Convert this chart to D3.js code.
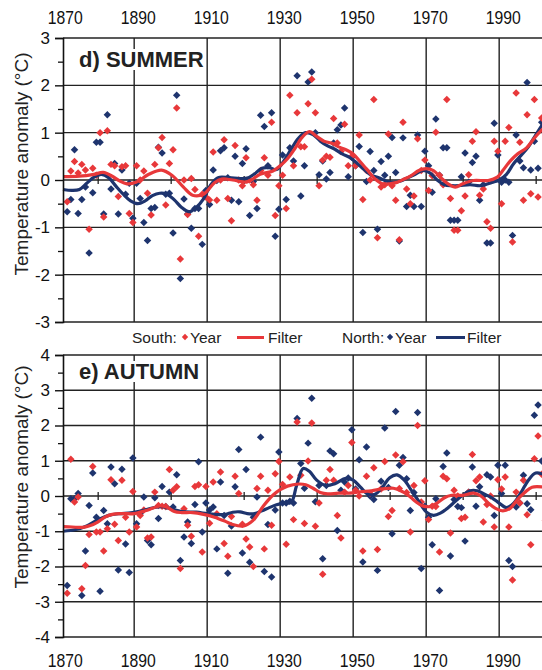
<!DOCTYPE html>
<html>
<head>
<meta charset="utf-8">
<script src="https://cdn.jsdelivr.net/npm/d3@7"></script>
<style>
  body { margin: 0; background: #fff; }
  text { font-family: "Liberation Sans", Arial, sans-serif; fill: #111; }
</style>
</head>
<body>
<svg id="chart" width="542" height="670"></svg>
<script>
// decade labels on the top and bottom edges
const yearLabels = [1870, 1890, 1910, 1930, 1950, 1970, 1990];
const gridYears = [1890, 1910, 1930, 1950, 1970, 1990];
const zeroTicks = [1880, 1900, 1920, 1940, 1960, 1980, 2000];

// d) SUMMER
const summerNorth = [
  [1871,-0.67],[1872,-0.41],[1873,0.64],[1874,-0.71],[1875,-0.41],[1876,-0.15],[1877,-1.54],[1878,-0.27],
  [1879,0.80],[1880,0.80],[1881,-0.72],[1882,1.38],[1883,-0.19],[1884,0.35],[1885,-0.72],[1886,0.21],
  [1887,-0.30],[1888,-0.07],[1889,-0.81],[1890,-0.07],[1891,-0.39],[1892,-0.90],[1893,-1.28],[1894,-0.60],
  [1895,-0.58],[1896,0.69],[1897,0.57],[1898,-0.30],[1899,-0.28],[1900,-1.12],[1901,1.79],[1902,-2.08],
  [1903,-0.40],[1904,-0.72],[1905,-1.02],[1906,-0.60],[1907,-0.60],[1908,-1.36],[1909,-0.22],[1910,-0.52],
  [1911,0.21],[1912,-0.01],[1913,0.62],[1914,0.68],[1915,0.05],[1916,-0.43],[1917,0.50],[1918,-0.46],
  [1919,0.35],[1920,0.66],[1921,-0.75],[1922,-0.03],[1923,-0.60],[1924,1.37],[1925,1.13],[1926,0.30],
  [1927,1.42],[1928,-1.19],[1929,-0.62],[1930,0.53],[1931,-0.41],[1932,0.68],[1933,0.40],[1934,2.20],
  [1935,-0.34],[1936,0.30],[1937,2.07],[1938,2.28],[1939,1.00],[1940,0.11],[1941,0.40],[1942,0.02],
  [1943,0.16],[1944,0.78],[1945,1.06],[1946,1.16],[1947,1.52],[1948,0.07],[1949,0.48],[1950,0.30],
  [1951,0.71],[1952,-1.11],[1953,-0.03],[1954,0.60],[1955,0.20],[1956,-1.04],[1957,0.39],[1958,0.10],
  [1959,0.50],[1960,0.90],[1961,0.16],[1962,-1.29],[1963,0.89],[1964,-0.56],[1965,-0.32],[1966,-0.56],
  [1967,0.95],[1968,-0.56],[1969,0.61],[1970,0.30],[1971,-0.26],[1972,1.29],[1973,0.10],[1974,0.68],
  [1975,0.68],[1976,-0.85],[1977,-0.85],[1978,-0.85],[1979,0.07],[1980,0.57],[1981,-0.05],[1982,0.37],
  [1983,0.50],[1984,-0.43],[1985,-0.10],[1986,-1.33],[1987,-1.33],[1988,1.20],[1989,0.53],[1990,-0.05],
  [1991,0.00],[1992,-0.05],[1993,-1.17],[1994,0.95],[1995,0.40],[1996,0.26],[1997,2.06],[1998,0.21],
  [1999,0.82],[2000,0.25],[2001,1.22]
];
const summerSouth = [
  [1871,-0.46],[1872,0.19],[1873,0.39],[1874,0.15],[1875,0.33],[1876,0.21],[1877,-1.04],[1878,0.25],
  [1879,0.10],[1880,1.00],[1881,-0.78],[1882,1.04],[1883,0.33],[1884,0.30],[1885,-0.35],[1886,0.28],
  [1887,0.30],[1888,-0.71],[1889,-0.90],[1890,0.30],[1891,0.00],[1892,0.19],[1893,-0.28],[1894,-0.74],
  [1895,0.33],[1896,0.68],[1897,0.90],[1898,-0.53],[1899,0.35],[1900,0.64],[1901,1.52],[1902,-1.67],
  [1903,0.00],[1904,-0.73],[1905,0.03],[1906,-0.20],[1907,-1.19],[1908,-0.30],[1909,-0.36],[1910,-0.42],
  [1911,0.59],[1912,-0.43],[1913,0.00],[1914,0.85],[1915,-0.39],[1916,-0.86],[1917,0.73],[1918,0.00],
  [1919,-0.12],[1920,0.47],[1921,0.00],[1922,-0.10],[1923,-0.43],[1924,0.20],[1925,0.47],[1926,0.10],
  [1927,1.22],[1928,-0.75],[1929,-0.12],[1930,0.10],[1931,-0.60],[1932,1.79],[1933,0.30],[1934,1.42],
  [1935,0.70],[1936,0.70],[1937,1.61],[1938,2.13],[1939,1.42],[1940,-0.12],[1941,0.42],[1942,0.50],
  [1943,0.48],[1944,1.30],[1945,0.78],[1946,0.60],[1947,1.18],[1948,0.30],[1949,0.50],[1950,0.30],
  [1951,0.95],[1952,-0.41],[1953,0.20],[1954,0.00],[1955,1.70],[1956,-1.22],[1957,-0.15],[1958,-0.10],
  [1959,0.97],[1960,-0.12],[1961,-0.43],[1962,-1.26],[1963,1.22],[1964,-0.19],[1965,-0.50],[1966,-0.34],
  [1967,0.87],[1968,0.20],[1969,0.42],[1970,-0.22],[1971,0.09],[1972,1.01],[1973,0.10],[1974,-0.10],
  [1975,1.70],[1976,-0.39],[1977,-1.06],[1978,-1.06],[1979,-0.65],[1980,-0.34],[1981,0.11],[1982,0.82],
  [1983,1.02],[1984,-0.32],[1985,-0.19],[1986,-0.88],[1987,-1.02],[1988,0.82],[1989,0.61],[1990,-0.50],
  [1991,0.82],[1992,1.11],[1993,-1.31],[1994,1.84],[1995,0.80],[1996,-0.43],[1997,1.38],[1998,-0.29],
  [1999,1.70],[2000,-0.36],[2001,1.31],[2002,2.09]
];
const summerNorthFilter = [
  [1870.5,-0.20],[1873,-0.22],[1875,-0.20],[1877,-0.07],[1879,0.06],[1881,0.12],[1883,0.05],[1885,-0.13],
  [1887,-0.30],[1889,-0.44],[1891,-0.50],[1893,-0.44],[1895,-0.33],[1897,-0.28],[1899,-0.30],[1901,-0.42],
  [1903,-0.58],[1905,-0.67],[1907,-0.58],[1909,-0.40],[1911,-0.10],[1913,0.05],[1916,0.05],[1919,0.03],
  [1921,0.04],[1923,0.13],[1925,0.25],[1927,0.26],[1929,0.22],[1931,0.40],[1933,0.65],[1935,0.88],
  [1937,1.00],[1939,0.96],[1941,0.82],[1943,0.72],[1945,0.65],[1947,0.55],[1949,0.48],[1951,0.36],
  [1953,0.22],[1955,0.10],[1957,0.05],[1959,-0.02],[1961,-0.05],[1963,-0.02],[1965,0.05],[1967,0.12],
  [1969,0.20],[1971,0.15],[1973,0.00],[1975,-0.10],[1977,-0.12],[1979,-0.12],[1982,-0.10],[1985,-0.12],
  [1988,-0.05],[1990,0.00],[1992,0.12],[1994,0.35],[1996,0.52],[1998,0.70],[2000,0.95],[2002.5,1.25]
];
const summerSouthFilter = [
  [1870.5,0.07],[1875,0.08],[1879,0.12],[1881.5,0.16],[1884,0.08],[1886,-0.02],[1888,-0.08],[1890.5,-0.05],
  [1894,0.12],[1897.5,0.21],[1900.5,0.09],[1903.5,-0.15],[1906,-0.32],[1909,-0.30],[1912,-0.06],[1914,0.02],
  [1917,0.00],[1921,-0.04],[1924.5,0.12],[1928,0.19],[1930,0.30],[1932,0.45],[1934,0.66],[1936,0.90],
  [1938,1.02],[1940,0.92],[1942,0.82],[1944,0.78],[1946,0.70],[1948,0.64],[1950,0.55],[1952,0.38],
  [1954,0.20],[1956,0.02],[1958,-0.08],[1960,-0.08],[1962,-0.05],[1964,0.02],[1966,0.10],[1968,0.20],
  [1970,0.24],[1972,0.20],[1974,0.05],[1976,-0.08],[1978,-0.15],[1980,-0.08],[1983,-0.01],[1987,-0.01],
  [1989.5,0.06],[1991,0.20],[1993,0.40],[1995,0.55],[1997.5,0.68],[2000,0.92],[2002.5,1.12]
];

// e) AUTUMN
const autumnNorth = [
  [1871,-2.54],[1872,-0.08],[1873,-0.08],[1874,0.07],[1875,-2.82],[1876,-1.56],[1877,-0.27],[1878,0.65],
  [1879,-0.60],[1880,-2.70],[1881,-0.41],[1882,-0.79],[1883,0.82],[1884,0.35],[1885,-2.10],[1886,0.76],
  [1887,-1.36],[1888,-2.17],[1889,1.08],[1890,-0.79],[1891,-0.50],[1892,-0.03],[1893,-1.26],[1894,-1.38],
  [1895,-0.05],[1896,-0.64],[1897,0.27],[1898,-0.30],[1899,0.11],[1900,-0.31],[1901,0.60],[1902,-1.83],
  [1903,-1.16],[1904,-0.74],[1905,-1.35],[1906,-0.24],[1907,0.97],[1908,-1.02],[1909,-0.20],[1910,-0.40],
  [1911,-0.31],[1912,-1.50],[1913,0.40],[1914,-0.55],[1915,-2.19],[1916,-0.85],[1917,0.26],[1918,1.32],
  [1919,-1.62],[1920,0.75],[1921,-1.88],[1922,-0.60],[1923,-0.03],[1924,1.67],[1925,-2.14],[1926,-0.81],
  [1927,-2.30],[1928,-0.40],[1929,1.25],[1930,-0.20],[1931,-0.20],[1932,-0.15],[1933,-0.20],[1934,2.20],
  [1935,0.92],[1936,0.22],[1937,1.50],[1938,2.77],[1939,-0.16],[1940,0.30],[1941,-1.78],[1942,0.30],
  [1943,1.28],[1944,1.20],[1945,-0.98],[1946,0.16],[1947,0.40],[1948,0.51],[1949,1.88],[1950,0.20],
  [1951,1.03],[1952,-1.87],[1953,1.39],[1954,0.00],[1955,-0.10],[1956,-2.11],[1957,0.42],[1958,1.93],
  [1959,0.24],[1960,-1.07],[1961,2.40],[1962,0.87],[1963,1.09],[1964,0.49],[1965,-0.41],[1966,0.10],
  [1967,2.37],[1968,-2.06],[1969,-0.29],[1970,-0.60],[1971,-1.38],[1972,-0.08],[1973,-2.68],[1974,0.84],
  [1975,1.22],[1976,-1.70],[1977,-0.10],[1978,-0.30],[1979,-0.33],[1980,-1.28],[1981,0.11],[1982,0.82],
  [1983,-0.29],[1984,0.26],[1985,0.00],[1986,0.60],[1987,0.54],[1988,-0.55],[1989,0.87],[1990,0.07],
  [1991,0.87],[1992,-1.83],[1993,-2.00],[1994,-0.31],[1995,-0.20],[1996,0.59],[1997,-0.22],[1998,-0.39],
  [1999,2.29],[2000,2.58],[2001,0.99]
];
const autumnSouth = [
  [1871,-2.76],[1872,1.04],[1873,-0.17],[1874,-0.03],[1875,-2.63],[1876,-1.97],[1877,-1.09],[1878,0.84],
  [1879,-1.02],[1880,-1.02],[1881,-1.56],[1882,-0.93],[1883,0.46],[1884,-0.80],[1885,-1.26],[1886,0.45],
  [1887,-0.60],[1888,-1.02],[1889,0.13],[1890,-0.88],[1891,-0.55],[1892,-0.40],[1893,-1.19],[1894,-1.16],
  [1895,0.11],[1896,-0.27],[1897,-0.29],[1898,-0.30],[1899,0.75],[1900,0.16],[1901,0.26],[1902,-2.06],
  [1903,-0.36],[1904,-0.83],[1905,-1.14],[1906,0.27],[1907,0.32],[1908,-1.59],[1909,0.27],[1910,-0.77],
  [1911,0.40],[1912,-0.50],[1913,0.68],[1914,-1.35],[1915,-1.71],[1916,-0.58],[1917,0.56],[1918,0.07],
  [1919,-0.80],[1920,-1.22],[1921,-1.45],[1922,-2.00],[1923,0.21],[1924,0.56],[1925,-1.50],[1926,0.16],
  [1927,-0.83],[1928,0.63],[1929,0.98],[1930,0.33],[1931,-1.37],[1932,0.54],[1933,-0.67],[1934,2.10],
  [1935,0.59],[1936,-0.78],[1937,0.99],[1938,2.07],[1939,-0.86],[1940,-0.20],[1941,-2.22],[1942,0.45],
  [1943,0.75],[1944,0.45],[1945,-0.55],[1946,-1.19],[1947,0.11],[1948,0.30],[1949,1.52],[1950,0.16],
  [1951,0.00],[1952,-1.56],[1953,0.56],[1954,0.07],[1955,0.80],[1956,-1.52],[1957,0.20],[1958,0.98],
  [1959,-0.58],[1960,-0.41],[1961,1.16],[1962,0.21],[1963,0.97],[1964,0.10],[1965,-1.02],[1966,0.30],
  [1967,2.00],[1968,-0.17],[1969,0.43],[1970,-0.67],[1971,-0.29],[1972,-0.30],[1973,-1.59],[1974,0.56],
  [1975,0.49],[1976,-1.05],[1977,0.16],[1978,0.00],[1979,-0.64],[1980,-0.60],[1981,0.11],[1982,1.18],
  [1983,0.43],[1984,0.54],[1985,-0.74],[1986,-0.24],[1987,0.00],[1988,-0.88],[1989,0.46],[1990,0.20],
  [1991,0.54],[1992,-0.88],[1993,-2.38],[1994,0.11],[1995,-0.20],[1996,0.45],[1997,-0.53],[1998,-1.38],
  [1999,1.06],[2000,1.70],[2001,0.62],[2002,-0.69]
];
const autumnNorthFilter = [
  [1870.5,-1.00],[1874,-0.95],[1877,-0.85],[1880,-0.68],[1883,-0.55],[1886,-0.50],[1889,-0.48],[1892,-0.42],
  [1895,-0.34],[1897.5,-0.30],[1900,-0.36],[1903,-0.44],[1907,-0.46],[1910,-0.50],[1913,-0.53],[1915,-0.52],
  [1917,-0.46],[1919,-0.45],[1921,-0.50],[1923,-0.50],[1925,-0.42],[1927,-0.33],[1929,-0.25],[1931,-0.20],
  [1933,-0.18],[1934.5,0.30],[1936.3,0.78],[1938,0.70],[1940,0.45],[1942.5,0.30],[1945,0.35],[1948,0.50],
  [1950,0.45],[1952,0.25],[1954,0.05],[1956,0.05],[1958,0.25],[1960,0.52],[1962,0.60],[1964,0.45],
  [1966,0.15],[1968,-0.15],[1970,-0.45],[1972,-0.55],[1974,-0.48],[1976,-0.33],[1978,-0.15],[1980,0.02],
  [1982,0.15],[1984,0.15],[1986,0.05],[1988,-0.05],[1990,-0.20],[1992,-0.33],[1994,-0.20],[1996,0.10],
  [1998,0.45],[2000,0.65],[2002.5,0.60]
];
const autumnSouthFilter = [
  [1870.5,-0.87],[1873,-0.88],[1876,-0.89],[1878,-0.84],[1880,-0.74],[1882,-0.60],[1884,-0.52],[1887,-0.50],
  [1890,-0.50],[1893,-0.42],[1895,-0.35],[1897,-0.28],[1899,-0.32],[1901,-0.44],[1903,-0.47],[1906,-0.47],
  [1909,-0.52],[1912,-0.60],[1915,-0.72],[1917,-0.81],[1920,-0.85],[1922.5,-0.70],[1925.5,-0.27],[1928,0.02],
  [1930,0.18],[1932,0.28],[1935,0.34],[1937,0.32],[1939,0.22],[1941,0.10],[1943,0.06],[1946,0.08],
  [1949,0.08],[1952,0.12],[1955,0.15],[1958,0.20],[1961,0.22],[1963,0.15],[1965,0.03],[1967,-0.15],
  [1969,-0.28],[1971,-0.30],[1973,-0.20],[1975,-0.05],[1977,0.02],[1980,0.02],[1983,0.08],[1985,0.00],
  [1987,-0.20],[1989,-0.35],[1991,-0.42],[1993,-0.35],[1995,-0.10],[1997,0.10],[1999,0.25],[2002.5,0.25]
];

const red = "#e8383a";
const blue = "#1e346e";

const svg = d3.select("#chart");

// same horizontal scale for both panels
const x = d3.scaleLinear().domain([1870.5, 2003.5]).range([63, 63 + 133 * 3.65]);
const pointOffset = 0.65; // annual values sit inside their year

const line = d3.line()
  .x(d => x(d[0]))
  .curve(d3.curveCatmullRom.alpha(0.5));

function drawPanel(p) {
  const y = d3.scaleLinear().domain(p.domain).range([p.bottom, p.top]);
  const g = svg.append("g");
  const right = x.range()[1];
  const integers = d3.range(p.domain[0], p.domain[1] + 1);
  const halves = d3.range(p.domain[0] + 0.5, p.domain[1], 1);

  // grid
  g.append("g").selectAll("line").data(integers).join("line")
    .attr("x1", x.range()[0]).attr("x2", right)
    .attr("y1", d => y(d)).attr("y2", d => y(d))
    .attr("stroke", "#222").attr("stroke-width", 1.4);
  g.append("g").selectAll("line").data(gridYears).join("line")
    .attr("x1", d => x(d)).attr("x2", d => x(d))
    .attr("y1", p.top).attr("y2", p.bottom)
    .attr("stroke", "#222").attr("stroke-width", 1.4);

  // small ticks along the zero line
  const zeroAxis = g.append("g")
    .attr("transform", `translate(0,${y(0) - 4})`)
    .call(d3.axisBottom(x).tickValues(zeroTicks).tickSize(8).tickFormat(""));
  zeroAxis.select(".domain").remove();
  zeroAxis.selectAll("line").attr("stroke", "#222").attr("stroke-width", 1.3);

  // title with white box behind it
  const titleBox = g.append("rect").attr("fill", "#fff");
  const title = g.append("text")
    .attr("x", 79).attr("y", p.titleY)
    .attr("font-size", 22).attr("font-weight", "bold")
    .style("fill", "#222")
    .text(p.title);
  const bb = title.node().getBBox();
  titleBox
    .attr("x", bb.x - 3).attr("y", bb.y + 2)
    .attr("width", bb.width + 4).attr("height", bb.height - 4);

  // points
  const sym = d3.symbol().type(d3.symbolSquare).size(28);
  [[p.north, blue], [p.south, red]].forEach(([data, col]) => {
    g.append("g").selectAll("path").data(data).join("path")
      .attr("d", sym)
      .attr("transform", d => `translate(${x(d[0] + pointOffset)},${y(d[1])}) rotate(45)`)
      .attr("fill", col);
  });

  // filters
  line.y(d => y(d[1]));
  g.append("path").datum(p.northFilter)
    .attr("d", line).attr("fill", "none")
    .attr("stroke", blue).attr("stroke-width", 3.2);
  g.append("path").datum(p.southFilter)
    .attr("d", line).attr("fill", "none")
    .attr("stroke", red).attr("stroke-width", 3.2);

  // left axis, plain hyphen for negatives
  const yAxis = g.append("g")
    .attr("transform", `translate(${x.range()[0]},0)`)
    .call(d3.axisLeft(y).tickValues(integers).tickSize(8).tickPadding(5).tickFormat(d => String(d)));
  yAxis.select(".domain").attr("stroke", "#111").attr("stroke-width", 1.6);
  yAxis.selectAll("line").attr("stroke", "#111").attr("stroke-width", 1.4);
  yAxis.selectAll("text").attr("font-size", 17).attr("font-family", "Liberation Sans, Arial, sans-serif")
    .style("fill", "#111");
  const minor = g.append("g")
    .attr("transform", `translate(${x.range()[0]},0)`)
    .call(d3.axisLeft(y).tickValues(halves).tickSize(5).tickFormat(""));
  minor.select(".domain").remove();
  minor.selectAll("line").attr("stroke", "#111").attr("stroke-width", 1.3);

  // axis title
  g.append("text")
    .attr("transform", `translate(28,${p.labelY}) rotate(-90)`)
    .attr("text-anchor", "middle")
    .attr("font-size", 19)
    .style("fill", "#222")
    .text("Temperature anomaly (°C)");
}

drawPanel({
  domain: [-3, 3], top: 38, bottom: 322, title: "d) SUMMER", titleY: 67, labelY: 164,
  north: summerNorth, south: summerSouth,
  northFilter: summerNorthFilter, southFilter: summerSouthFilter
});
drawPanel({
  domain: [-4, 4], top: 355, bottom: 637, title: "e) AUTUMN", titleY: 379, labelY: 477,
  north: autumnNorth, south: autumnSouth,
  northFilter: autumnNorthFilter, southFilter: autumnSouthFilter
});

// year labels, top and bottom
[24, 667].forEach(yy => {
  const ax = svg.append("g")
    .attr("transform", `translate(0,${yy})`)
    .call(d3.axisTop(x).tickValues(yearLabels).tickSize(0).tickPadding(0).tickFormat(d3.format("d")));
  ax.select(".domain").remove();
  ax.selectAll(".tick")
    .attr("transform", d => `translate(${x(d) + 4},0)`);
  ax.selectAll("text")
    .attr("x", 0)
    .attr("font-size", 19)
    .attr("font-family", "Liberation Sans, Arial, sans-serif")
    .attr("transform", "scale(0.83,1)")
    .style("fill", "#111");
});

// legend
const legend = svg.append("g").attr("font-size", 15.5);
const legendBase = 343;
const legendItems = [
  { t: "text", x: 132, s: "South:" },
  { t: "dot", x: 185, c: red },
  { t: "text", x: 190, s: "Year" },
  { t: "line", x: 237, w: 27, c: red },
  { t: "text", x: 268, s: "Filter" },
  { t: "text", x: 342, s: "North:" },
  { t: "dot", x: 390, c: blue },
  { t: "text", x: 395, s: "Year" },
  { t: "line", x: 436, w: 29, c: blue },
  { t: "text", x: 467, s: "Filter" }
];
legendItems.forEach(it => {
  if (it.t === "text") {
    legend.append("text").attr("x", it.x).attr("y", legendBase).style("fill", "#222").text(it.s);
  } else if (it.t === "dot") {
    legend.append("path")
      .attr("d", d3.symbol().type(d3.symbolSquare).size(20))
      .attr("transform", `translate(${it.x},${legendBase - 6}) rotate(45)`)
      .attr("fill", it.c);
  } else {
    legend.append("line")
      .attr("x1", it.x).attr("x2", it.x + it.w)
      .attr("y1", legendBase - 5.5).attr("y2", legendBase - 5.5)
      .attr("stroke", it.c).attr("stroke-width", 3);
  }
});
</script>
</body>
</html>
